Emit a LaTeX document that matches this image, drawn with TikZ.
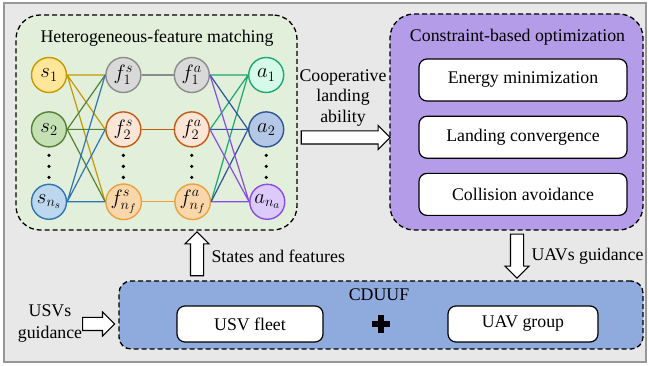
\documentclass[tikz,border=0pt]{standalone}
\usepackage{fontspec}
\setmainfont{Liberation Serif}
\usetikzlibrary{arrows.meta,positioning,shapes.arrows,calc}
\definecolor{framegray}{RGB}{232,232,232}
\definecolor{matchgreen}{RGB}{226,239,218}
\definecolor{optpurple}{RGB}{181,156,232}
\definecolor{fuseblue}{RGB}{143,170,220}
\definecolor{sgold}{RGB}{196,154,0}
\definecolor{sgoldfill}{RGB}{255,230,153}
\definecolor{sgreen}{RGB}{84,130,53}
\definecolor{sgreenfill}{RGB}{197,224,180}
\definecolor{sblue}{RGB}{46,117,182}
\definecolor{sbluefill}{RGB}{189,215,238}
\definecolor{fgray}{RGB}{140,140,140}
\definecolor{fgrayfill}{RGB}{217,217,217}
\definecolor{forange}{RGB}{197,90,17}
\definecolor{forangefill}{RGB}{251,229,214}
\definecolor{famber}{RGB}{238,160,62}
\definecolor{famberfill}{RGB}{249,215,170}
\definecolor{amint}{RGB}{24,170,112}
\definecolor{amintfill}{RGB}{214,250,234}
\definecolor{anavy}{RGB}{47,85,151}
\definecolor{anavyfill}{RGB}{180,199,231}
\definecolor{aviolet}{RGB}{138,75,232}
\definecolor{avioletfill}{RGB}{220,203,250}

\begin{document}
\begin{tikzpicture}[
      x=1pt, y=-1pt,
      every node/.style={font=\fontsize{17.8}{20.5}\selectfont},
      group/.style={draw, line width=1.3pt, dash pattern=on 5pt off 3pt, inner sep=0pt},
      item/.style={draw, line width=1.2pt, fill=white, rounded corners=8pt, inner sep=0pt},
      feat/.style 2 args={circle, draw=#1, fill=#2, line width=1.4pt, minimum size=35pt, inner sep=0pt,
        font=\fontsize{21}{24}\selectfont},
      link/.style={line width=1.2pt},
      fatarrow/.style={single arrow, draw, fill=white, line width=1.1pt, inner xsep=0pt, inner ysep=6pt,
        text height=0pt, text depth=0pt, minimum width=0pt, single arrow head extend=5.5pt}
  ]
    \useasboundingbox (0,0) rectangle (649,366);
    \draw[fgray!90, line width=1.5pt, fill=framegray] (4,3) rectangle (646,362);

    % the three blocks
    \node[group, fill=matchgreen, rounded corners=24pt, minimum width=281pt, minimum height=215pt] (match) at (156.5,122.5) {};
    \node[group, fill=optpurple, rounded corners=24pt, minimum width=253pt, minimum height=216pt] (opt) at (516.5,122) {};
    \node[group, fill=fuseblue, rounded corners=12pt, minimum width=524pt, minimum height=68pt] (cduuf) at (381,315) {};

    \node at (157,38) (mtitle) {Heterogeneous-feature matching};
    \node at (517.5,37.5) (otitle) {Constraint-based optimization};
    \node at (379,295) (ctitle) {CDUUF};

    % optimization terms
    \node[item, minimum width=208pt, minimum height=42pt] (energy) at (523,80) {Energy minimization};
    \node[item, minimum width=208pt, minimum height=42pt, below=14pt of energy] (conv) {Landing convergence};
    \node[item, minimum width=208pt, minimum height=42pt, below=14pt of conv] (coll) {Collision avoidance};

    % fleets
    \node[item, minimum width=146pt, minimum height=36pt] (usv) at (250,324) {USV fleet};
    \node[item, minimum width=150pt, minimum height=36pt] (uav) at (523,324) {UAV group};
    \coordinate (plus) at (381,324);
    \fill (plus) ++(-9,-3) rectangle ++(18,6);
    \fill (plus) ++(-3,-9) rectangle ++(6,18);

    % matching graph
    \node[feat={sgold}{sgoldfill}] (s1) at (49,75) {$s_1$};
    \node[feat={sgreen}{sgreenfill}, below=18pt of s1] (s2) {$s_2$};
    \node[feat={sblue}{sbluefill}, below=36pt of s2] (sn) {$s_{n_s}$};
    \node[feat={fgray}{fgrayfill}, right=38pt of s1] (f1s) {$f_1^s$};
    \node[feat={forange}{forangefill}, right=38pt of s2] (f2s) {$f_2^s$};
    \node[feat={famber}{famberfill}, right=38pt of sn] (fns) {$f_{n_f}^s$};
    \node[feat={fgray}{fgrayfill}, right=32pt of f1s] (f1a) {$f_1^a$};
    \node[feat={forange}{forangefill}, right=32pt of f2s] (f2a) {$f_2^a$};
    \node[feat={famber}{famberfill}, right=32pt of fns] (fna) {$f_{n_f}^a$};
    \node[feat={amint}{amintfill}, right=38pt of f1a] (a1) {$a_1$};
    \node[feat={anavy}{anavyfill}, right=38pt of f2a] (a2) {$a_2$};
    \node[feat={aviolet}{avioletfill}, right=38pt of fna] (an) {$a_{n_a}$};

    \draw[link, sgold] (s1.east) -- (f1s.west) (s1.east) -- (f2s.west) (s1.east) -- (fns.west);
    \draw[link, sgreen] (s2.east) -- (f1s.west) (s2.east) -- (f2s.west) (s2.east) -- (fns.west);
    \draw[link, sblue] (sn.east) -- (f1s.west) (sn.east) -- (f2s.west) (sn.east) -- (fns.west);
    \draw[link, fgray] (f1s) -- (f1a);
    \draw[link, forange] (f2s) -- (f2a);
    \draw[link, famber] (fns) -- (fna);
    \draw[link, amint] (f1a.east) -- (a1.west) (f2a.east) -- (a1.west) (fna.east) -- (a1.west);
    \draw[link, anavy] (f1a.east) -- (a2.west) (f2a.east) -- (a2.west) (fna.east) -- (a2.west);
    \draw[link, aviolet] (f1a.east) -- (an.west) (f2a.east) -- (an.west) (fna.east) -- (an.west);

    \foreach \col in {s2,f2s,f2a,a2}
      \foreach \dy in {26,37,48}
        \fill (\col) ++(0,\dy) circle (1.8);

    % block arrows and their labels
    \node[fatarrow, minimum height=89pt, anchor=tail] (coop) at ($(match.east)+(3,15)$) {};
    \node[align=center] (cooptext) at (343,98) {Cooperative\\landing\\ability};
    \node[fatarrow, minimum height=44pt, rotate=90, anchor=tail] (up) at ($(cduuf.north)+(-184,-4)$) {};
    \node[anchor=west] (uptext) at (208,256) {States and features};
    \node[fatarrow, minimum height=44pt, rotate=-90, anchor=tail] (down) at ($(opt.south)+(0.5,3)$) {};
    \node[anchor=west] (downtext) at (528,256) {UAVs guidance};
    \node[fatarrow, minimum height=32pt, anchor=tip] (usvin) at ($(cduuf.west)+(-3,9)$) {};
    \node[align=center, font=\fontsize{17.8}{22}\selectfont] (usvtext) at (50,324) {USVs\\guidance};
\end{tikzpicture}
\end{document}
